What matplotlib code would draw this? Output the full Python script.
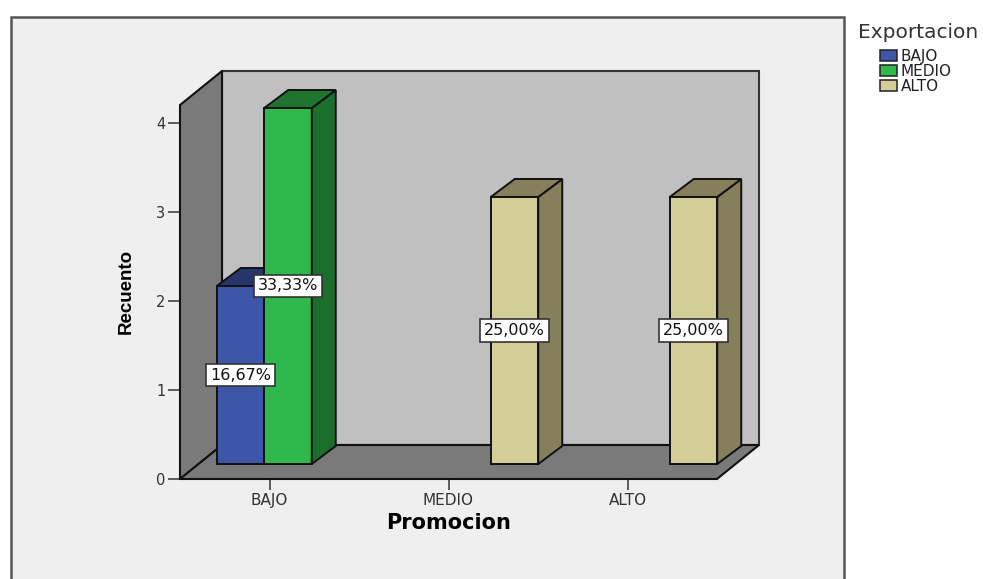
import matplotlib
matplotlib.use('Agg')
import matplotlib.pyplot as plt
import numpy as np
from matplotlib.patches import Polygon, Rectangle
from matplotlib.transforms import Affine2D, IdentityTransform

plt.rcParams['font.family'] = ['DejaVu Sans']

# data
categories = ['BAJO', 'MEDIO', 'ALTO']
series_names = ['BAJO', 'MEDIO', 'ALTO']
counts_bajo = [2, 0, 0]
counts_medio = [4, 0, 0]
counts_alto = [0, 3, 3]
labels_bajo = ['16,67%', '', '']
labels_medio = ['33,33%', '', '']
labels_alto = ['', '25,00%', '25,00%']
y_ticks = [0, 1, 2, 3, 4]

front_colors = ['#3d56a8', '#2fb84b', '#d3ce97']
side_colors = ['#2a3b75', '#1c6e2d', '#857f5c']
top_colors = ['#27356b', '#1f7530', '#857f5c']

W, H = 983, 579
fig = plt.figure(figsize=(W / 100, H / 100), dpi=100, facecolor='white')

# image pixels (y going down) to display
px = Affine2D().scale(1, -1).translate(0, H)


def add_px(patch, z=-1):
    patch.set_transform(px)
    patch.set_zorder(z)
    fig.add_artist(patch)


# grey panel, runs off the bottom of the picture
add_px(Rectangle((11, 17), 833, 580, facecolor='#efefef', edgecolor='#555555', lw=1.8))

# walls of the 3d box
edge = '#111111'
add_px(Polygon([(222, 71), (759, 71), (759, 445), (222, 445)], facecolor='#c0c0c0', edgecolor='#333333', lw=1.5))
add_px(Polygon([(180, 105), (222, 71), (222, 445), (180, 479)], facecolor='#7a7a7a', edgecolor=edge, lw=1.5))
add_px(Polygon([(180, 479), (222, 445), (759, 445), (717, 479)], facecolor='#7a7a7a', edgecolor=edge, lw=1.5))

ax = fig.add_axes([180 / W, (H - 479) / H, 537 / W, 374 / H])
ax.patch.set_visible(False)
ax.set_xlim(-0.5, 2.5)
ax.set_ylim(0, 374 / 89)
for s in ax.spines.values():
    s.set_visible(False)
ax.spines['left'].set_visible(True)
ax.spines['bottom'].set_visible(True)
ax.spines['left'].set_linewidth(1.1)
ax.spines['bottom'].set_linewidth(1.1)
ax.spines['left'].set_color(edge)
ax.spines['bottom'].set_color(edge)
ax.set_xticks(range(len(categories)))
ax.set_xticklabels(categories, fontsize=11, color='#333333')
ax.set_yticks(y_ticks)
ax.tick_params(axis='x', length=8, width=1.1, pad=2, color='#333333')
ax.tick_params(axis='y', length=8.5, width=1.1, pad=2, labelsize=10.5, color='#333333', labelcolor='#333333')
ax.set_xlabel('Promocion', fontsize=15, fontweight='bold', labelpad=4)
fig.text(126 / W, (H - 291) / H, 'Recuento', rotation=90, ha='center', va='center',
         fontsize=13.5, fontweight='bold', family='Liberation Sans')

# bars stand inside the floor, so they are pushed back by a fixed offset
shift = ax.transData + Affine2D().translate(18.5, 15)
bar_w = 47.5 / 179
dx, dy = 24, 18
x = np.arange(len(categories))
series = [counts_bajo, counts_medio, counts_alto]
texts = [labels_bajo, labels_medio, labels_alto]

for i, vals in enumerate(series):
    xs = x + (i - 1) * bar_w
    for xi, v, lab in zip(xs, vals, texts[i]):
        if v == 0:
            continue
        ax.bar(xi, v, bar_w, color=front_colors[i], edgecolor=edge, lw=1.4,
               transform=shift, clip_on=False, zorder=3 + i)
        (x0, y0), (x1, y1) = shift.transform([(xi - bar_w / 2, 0), (xi + bar_w / 2, v)])
        side = Polygon([(x1, y0), (x1 + dx, y0 + dy), (x1 + dx, y1 + dy), (x1, y1)],
                       facecolor=side_colors[i], edgecolor=edge, lw=1.4,
                       transform=IdentityTransform(), clip_on=False, zorder=3 + i)
        top = Polygon([(x0, y1), (x0 + dx, y1 + dy), (x1 + dx, y1 + dy), (x1, y1)],
                      facecolor=top_colors[i], edgecolor=edge, lw=1.4,
                      transform=IdentityTransform(), clip_on=False, zorder=3 + i)
        ax.add_patch(side)
        ax.add_patch(top)

for i, vals in enumerate(series):
    xs = x + (i - 1) * bar_w
    for xi, v, lab in zip(xs, vals, texts[i]):
        if lab:
            ax.text(xi, v / 2, lab, transform=shift, ha='center', va='center', fontsize=11.5,
                    color='#111111', zorder=10, clip_on=False, stretch='normal',
                    bbox=dict(boxstyle='square,pad=0.25', facecolor='white', edgecolor='#333333', lw=1.2))

# legend
fig.text(858 / W, (H - 33) / H, 'Exportacion', fontsize=14.5, va='center', color='#333333')
for j, name in enumerate(series_names):
    y = 50 + j * 15
    add_px(Rectangle((880, y), 17, 11, facecolor=front_colors[j], edgecolor='#222222', lw=1.1), z=1)
    fig.text(901 / W, (H - y - 6.5) / H, name, fontsize=11, va='center', color='#222222')

fig.savefig('out.png', dpi=100, facecolor='white')
